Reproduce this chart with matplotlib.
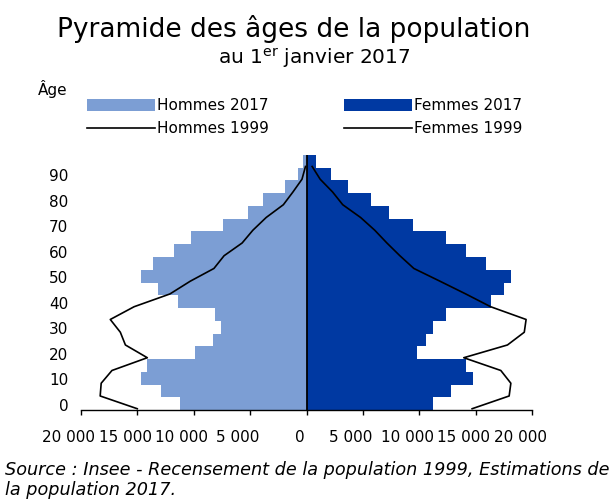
import matplotlib
matplotlib.use("Agg")
import matplotlib.pyplot as plt
from matplotlib.transforms import ScaledTranslation

# ---- data ----
age_groups = [0, 5, 10, 15, 20, 25, 30, 35, 40, 45, 50, 55, 60, 65, 70, 75, 80, 85, 90, 95]
hommes_2017 = [11180, 12910, 14700, 14160, 9870, 8290, 7600, 8080, 11360, 13150,
               14700, 13560, 11770, 10220, 7390, 5150, 3810, 1880, 740, 300]
femmes_2017 = [11180, 12790, 14760, 14130, 9750, 10590, 11240, 12350, 16310, 17450,
               18100, 15920, 14160, 12380, 9390, 7310, 5670, 3700, 2150, 800]
hommes_1999 = [14990, 18275, 18185, 17230, 14100, 16040, 16490, 17380, 15270, 12100,
               10300, 8200, 7300, 5700, 4750, 3570, 2050, 1200, 400, 90]
femmes_1999 = [14670, 17950, 18100, 17210, 13930, 17800, 19290, 19450, 16310, 14110,
               11825, 9510, 8270, 7120, 6045, 4790, 3210, 2310, 1210, 500]
x_ticks = [-20000, -15000, -10000, -5000, 0, 5000, 10000, 15000, 20000]
x_tick_labels = ["20 000", "15 000", "10 000", "5 000", "0", "5 000", "10 000", "15 000", "20 000"]
y_tick_labels = [0, 10, 20, 30, 40, 50, 60, 70, 80, 90]

light = "#7C9ED4"
dark = "#0039A2"

W, H = 614, 501
fig = plt.figure(figsize=(W / 100, H / 100), dpi=100)
ax = fig.add_axes([80.7 / W, 1 - 410 / H, 451.6 / W, 255 / H])

bh = ax.barh(age_groups, [-v for v in hommes_2017], height=5, align="edge",
             color=light, linewidth=0, zorder=1)
bf = ax.barh(age_groups, femmes_2017, height=5, align="edge",
             color=dark, linewidth=0, zorder=1)
line_y = [a + 0.5 for a in age_groups]
lh, = ax.plot([-v for v in hommes_1999], line_y, color="black", lw=1.2, zorder=3)
lf, = ax.plot(femmes_1999, line_y, color="black", lw=1.2, zorder=3)
ax.axvline(0, color="black", lw=1.3, zorder=4)

ax.set_xlim(-20000, 20000)
ax.set_ylim(0, 100)
for s in ["left", "right", "top"]:
    ax.spines[s].set_visible(False)
ax.spines["bottom"].set_color("black")
ax.spines["bottom"].set_linewidth(1.0)

ax.set_xticks(x_ticks)
ax.set_xticklabels(x_tick_labels, fontsize=11)
ax.tick_params(axis="x", length=3.6, width=1.0, direction="out", pad=11, colors="black")
ax.set_yticks([k + 2 for k in y_tick_labels])
ax.set_yticklabels([str(k) for k in y_tick_labels], fontsize=11)
ax.tick_params(axis="y", length=0, pad=9)

for lbl, val in zip(ax.get_xticklabels(), x_ticks):
    dx = -7 if val == 0 else -12
    lbl.set_transform(lbl.get_transform() + ScaledTranslation(dx / 100, 0, fig.dpi_scale_trans))

# titles
fig.text(294 / W, 1 - 37 / H, "Pyramide des âges de la population", fontsize=19,
         ha="center", va="baseline")
fig.text(314 / W, 1 - 65 / H, r"au 1$^{\mathrm{er}}$ janvier 2017", fontsize=14.5,
         ha="center", va="baseline")
fig.text(38 / W, 1 - 95 / H, "Âge", fontsize=11, ha="left", va="baseline")

fs = 11
fig.legend(handles=[bh, lh, bf, lf],
           labels=["Hommes 2017", "Hommes 1999", "Femmes 2017", "Femmes 1999"],
           ncol=2, loc="upper left", bbox_to_anchor=(87 / W, 1 - 98.5 / H),
           frameon=False, fontsize=fs, handlelength=4.45, handleheight=0.88,
           handletextpad=0.15, columnspacing=4.9, borderpad=0, borderaxespad=0,
           labelspacing=0.52)

fig.text(5 / W, 1 - 470 / H,
         "Source : Insee - Recensement de la population 1999, Estimations de",
         fontsize=12.7, style="italic", ha="left", va="center")
fig.text(5 / W, 1 - 490 / H, "la population 2017.", fontsize=12.7, style="italic",
         ha="left", va="center")

fig.savefig("out.png", dpi=100)
